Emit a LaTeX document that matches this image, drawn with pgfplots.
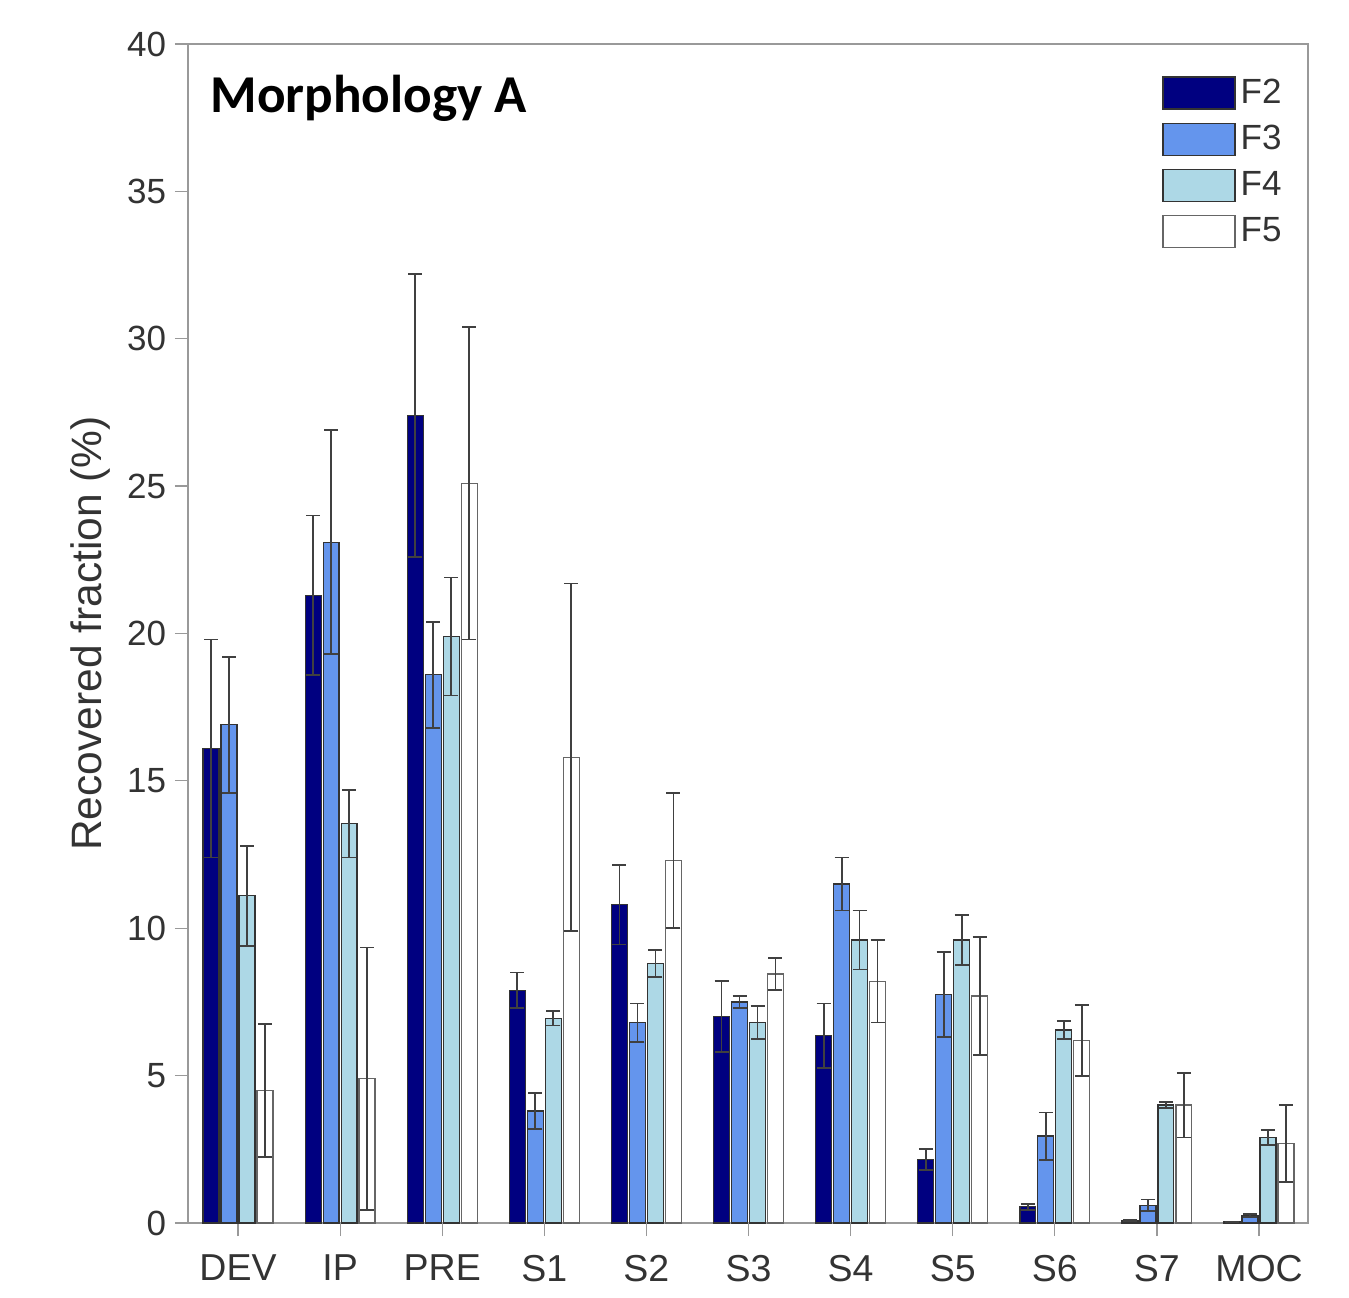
\documentclass[border=0pt]{standalone}
\usepackage{pgfplots}
\pgfplotsset{compat=1.18}
\usepackage{pgfplotstable}
\usepackage{fontspec}
\setmainfont{Liberation Sans}
\newfontfamily\titlefont{Carlito}
\definecolor{cF2}{HTML}{000080}
\definecolor{cF3}{HTML}{6495ED}
\definecolor{cF4}{HTML}{ADD8E6}
\definecolor{txt}{HTML}{333333}
\definecolor{axgray}{HTML}{999999}
\definecolor{edge}{HTML}{333333}

\pgfplotstableread{
x f2 e2 f3 e3 f4 e4 f5 e5
0 16.1 3.7 16.9 2.3 11.1 1.7 4.5 2.25
1 21.3 2.7 23.1 3.8 13.55 1.15 4.9 4.45
2 27.4 4.8 18.6 1.8 19.9 2.0 25.1 5.3
3 7.9 0.6 3.8 0.6 6.95 0.25 15.8 5.9
4 10.8 1.35 6.8 0.65 8.8 0.45 12.3 2.3
5 7.0 1.2 7.5 0.2 6.8 0.55 8.45 0.55
6 6.35 1.1 11.5 0.9 9.6 1.0 8.2 1.4
7 2.15 0.35 7.75 1.45 9.6 0.85 7.7 2.0
8 0.55 0.1 2.95 0.8 6.55 0.3 6.2 1.2
9 0.08 0.02 0.6 0.2 4.0 0.1 4.0 1.1
10 0.04 0.01 0.25 0.05 2.9 0.25 2.7 1.3
}\datatab

\begin{document}
\begin{tikzpicture}
\begin{axis}[
  scale only axis,
  width=448pt, height=471.6pt,
  ybar, bar width=0.156,
  xmin=-0.49, xmax=10.48,
  ymin=0, ymax=40,
  xtick={0,...,10},
  xticklabels={DEV,IP,PRE,S1,S2,S3,S4,S5,S6,S7,MOC},
  ytick={0,5,...,40},
  /pgf/number format/assume math mode=true,
  tick align=outside,
  tick pos=left,
  major tick length=5.2pt,
  axis line style={draw=axgray, line width=0.5pt},
  tick style={draw=axgray, line width=0.5pt},
  xticklabel style={font=\fontsize{15}{15}\selectfont, text=txt, yshift=-4pt},
  yticklabel style={font=\fontsize{14}{14}\selectfont, text=txt},
  ylabel={Recovered fraction (\%)},
  every axis y label/.style={at={(rel axis cs:0,0.5)}, rotate=90, anchor=center, yshift=39pt,
     font=\fontsize{17}{17}\selectfont, text=txt},
  legend image code/.code={\draw[#1, line width=0.5pt] (0pt,-6.4pt) rectangle (28.8pt,6.4pt);},
  legend style={at={(0.8696,0.973)}, anchor=north west, draw=none, fill=none,
     inner xsep=0pt, inner ysep=0pt, row sep=5.2pt,
     font=\fontsize{14}{14}\selectfont, text=txt,
     nodes={inner xsep=2pt, inner ysep=0pt}},
  legend cell align=left,
  error bars/y dir=both,
  error bars/y explicit,
  error bars/error bar style={draw=black!75, line width=0.7pt},
  error bars/error mark options={draw=black!75, line width=0.7pt, mark size=2.8pt, rotate=90},
]
\addplot[fill=cF2, draw=edge, line width=0.5pt, bar shift=-0.264] table[x=x, y=f2, y error=e2] {\datatab};
\addplot[fill=cF3, draw=edge, line width=0.5pt, bar shift=-0.088] table[x=x, y=f3, y error=e3] {\datatab};
\addplot[fill=cF4, draw=edge, line width=0.5pt, bar shift=0.088] table[x=x, y=f4, y error=e4] {\datatab};
\addplot[fill=white, draw=black!60, line width=0.5pt, bar shift=0.264] table[x=x, y=f5, y error=e5] {\datatab};
\legend{F2,F3,F4,F5}
\node[anchor=base west, inner sep=0pt, font=\titlefont\bfseries\fontsize{21.3}{21.3}\selectfont] at (rel axis cs:0.0196,0.9423) {Morphology A};
\end{axis}
\pgfresetboundingbox
\path (-75.2pt,-29.6pt) rectangle (464.4pt,489.2pt);
\end{tikzpicture}
\end{document}
